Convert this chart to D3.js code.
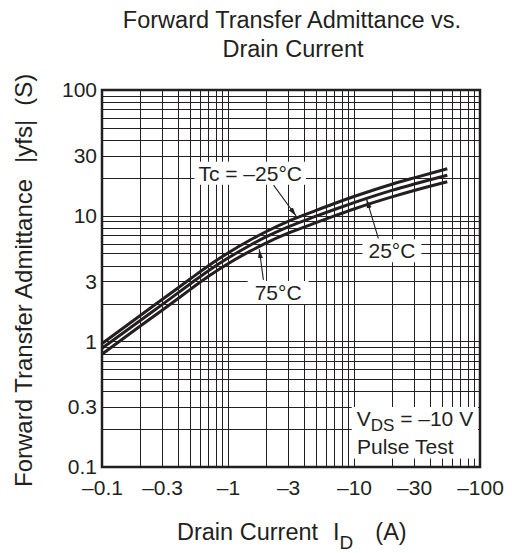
<!DOCTYPE html>
<html>
<head>
<meta charset="utf-8">
<script src="https://cdn.jsdelivr.net/npm/d3@7"></script>
<style>
  body { margin: 0; background: #fff; }
  svg { display: block; font-family: 'Liberation Sans', Arial, Helvetica, sans-serif; }
</style>
</head>
<body>
<svg id="chart"></svg>
<script>
/* global d3 */
const width = 517
const height = 553
const margin = { top: 90, right: 37, bottom: 86, left: 102 }
const ink = '#231f20'

// drain current (A) and |yfs| (S)
const drainCurrent = [-0.1, -0.2, -0.3, -0.5, -0.7, -1, -1.5, -2, -3, -5, -7, -10, -20, -30, -55]
const yfsMinus25 = [0.96, 1.6, 2.15, 3.13, 4.0, 5.05, 6.4, 7.45, 9.0, 11.0, 12.5, 14.2, 17.8, 20.0, 23.6]
const yfs25 = [0.88, 1.46, 1.96, 2.86, 3.65, 4.6, 5.82, 6.77, 8.15, 9.9, 11.2, 12.7, 15.9, 17.85, 21.0]
const yfs75 = [0.79, 1.32, 1.77, 2.58, 3.3, 4.15, 5.22, 6.05, 7.25, 8.8, 9.95, 11.3, 14.1, 15.85, 18.6]

const xTickValues = [-0.1, -0.3, -1, -3, -10, -30, -100]
const yTickValues = [0.1, 0.3, 1, 3, 10, 30, 100]

// curve labels: text, label centre, arrow tail, arrow tip (data units)
const curveLabels = [
  { text: 'Tc = –25°C', at: [-1.5, 21.7], from: [-2.3, 17.5], to: [-3.47, 9.93], padX: 4 },
  { text: '25°C', at: [-20, 5.24], from: [-15.6, 6.6], to: [-12.6, 13.5], padX: 6 },
  { text: '75°C', at: [-2.5, 2.44], from: [-1.91, 3.08], to: [-1.77, 5.4], padX: 7 }
]

const svg = d3.select('#chart').attr('width', width).attr('height', height)

/** Scales */
const x = d3.scaleLog()
  .domain([-0.1, -100])
  .range([margin.left, width - margin.right])
const y = d3.scaleLog()
  .domain([0.1, 100])
  .range([height - margin.bottom, margin.top])

const [x0, x1] = x.range()
const [y1, y0] = y.range()

/** Log grid */
const grid = svg.append('g')
  .attr('stroke', ink)
  .attr('stroke-width', 1)
  .attr('shape-rendering', 'crispEdges')
grid.selectAll('line.v')
  .data(x.ticks())
  .join('line')
  .attr('class', 'v')
  .attr('x1', d => Math.round(x(d)) + 0.5)
  .attr('x2', d => Math.round(x(d)) + 0.5)
  .attr('y1', y0)
  .attr('y2', y1)
grid.selectAll('line.h')
  .data(y.ticks())
  .join('line')
  .attr('class', 'h')
  .attr('x1', x0)
  .attr('x2', x1)
  .attr('y1', d => Math.round(y(d)) + 0.5)
  .attr('y2', d => Math.round(y(d)) + 0.5)

/** Axes (labels only) */
const xAxis = d3.axisBottom(x)
  .tickValues(xTickValues)
  .tickFormat(d => '–' + Math.abs(d))
  .tickSize(0)
  .tickPadding(13)
const yAxis = d3.axisLeft(y)
  .tickValues(yTickValues)
  .tickFormat(d => String(d))
  .tickSize(0)
  .tickPadding(5)

svg.append('g')
  .attr('transform', `translate(0,${y1})`)
  .call(xAxis)
  .call(g => g.select('.domain').remove())
  .attr('font-size', 21)
  .attr('font-family', null)
  .selectAll('text').attr('fill', ink)

svg.append('g')
  .attr('transform', `translate(${x0},0)`)
  .call(yAxis)
  .call(g => g.select('.domain').remove())
  .attr('font-size', 21)
  .attr('font-family', null)
  .selectAll('text').attr('fill', ink)

/** Curve labels with white boxes */
const labels = svg.append('g').attr('font-size', 21).attr('fill', ink)
curveLabels.forEach(l => {
  const g = labels.append('g')
  const rect = g.append('rect').attr('fill', '#fff')
  const t = g.append('text')
    .attr('x', x(l.at[0]))
    .attr('y', y(l.at[1]))
    .attr('dy', '0.35em')
    .attr('text-anchor', 'middle')
    .text(l.text)
  const b = t.node().getBBox()
  rect.attr('x', b.x - l.padX).attr('y', b.y).attr('width', b.width + 2 * l.padX).attr('height', b.height)
})

/** Test conditions box */
const note = svg.append('g').attr('font-size', 21).attr('fill', ink)
const noteRect = note.append('rect').attr('fill', '#fff')
const vds = note.append('text').attr('x', x1 - 123.3).attr('y', y1 - 41)
vds.append('tspan').text('V')
vds.append('tspan').attr('font-size', 17).attr('dy', 5).text('DS')
vds.append('tspan').attr('dy', -5).text(' = –10 V')
note.append('text').attr('x', x1 - 123).attr('y', y1 - 13.5).text('Pulse Test')
const nb = note.node().getBBox()
noteRect.attr('x', nb.x - 5).attr('y', nb.y).attr('width', x1 - 2 - (nb.x - 5)).attr('height', nb.height + 1)

/** Arrows */
const defs = svg.append('defs')
defs.append('marker')
  .attr('id', 'head')
  .attr('markerUnits', 'userSpaceOnUse')
  .attr('markerWidth', 9)
  .attr('markerHeight', 6)
  .attr('refX', 9)
  .attr('refY', 3)
  .attr('orient', 'auto')
  .append('path')
  .attr('d', 'M0,0.5 L9,3 L0,5.5 Z')
  .attr('fill', ink)

svg.append('g')
  .selectAll('line')
  .data(curveLabels)
  .join('line')
  .attr('x1', d => x(d.from[0]))
  .attr('y1', d => y(d.from[1]))
  .attr('x2', d => x(d.to[0]))
  .attr('y2', d => y(d.to[1]))
  .attr('stroke', ink)
  .attr('stroke-width', 1.1)
  .attr('marker-end', 'url(#head)')

/** Curves */
const line = d3.line()
  .x((d, i) => x(drainCurrent[i]))
  .y(d => y(d))
  .curve(d3.curveMonotoneX)

svg.append('g')
  .selectAll('path')
  .data([yfsMinus25, yfs25, yfs75])
  .join('path')
  .attr('d', line)
  .attr('fill', 'none')
  .attr('stroke', ink)
  .attr('stroke-width', 3)

/** Frame */
svg.append('rect')
  .attr('x', x0)
  .attr('y', y0)
  .attr('width', x1 - x0)
  .attr('height', y1 - y0)
  .attr('fill', 'none')
  .attr('stroke', ink)
  .attr('stroke-width', 2.5)

/** Titles */
const title = svg.append('g').attr('font-size', 23.5).attr('fill', ink).attr('text-anchor', 'middle')
title.append('text').attr('x', 292).attr('y', 28).text('Forward Transfer Admittance vs.')
title.append('text').attr('x', 293).attr('y', 57).text('Drain Current')

const xTitle = svg.append('text')
  .attr('x', 177)
  .attr('y', 540)
  .attr('font-size', 23.5)
  .attr('fill', ink)
xTitle.append('tspan').text('Drain Current')
xTitle.append('tspan').attr('dx', 15).text('I')
xTitle.append('tspan').attr('font-size', 19).attr('dy', 9).text('D')
xTitle.append('tspan').attr('dx', 22).attr('dy', -9).text('(A)')

const yTitle = svg.append('text')
  .attr('transform', 'translate(32,487) rotate(-90)')
  .attr('font-size', 24)
  .attr('fill', ink)
yTitle.append('tspan').text('Forward Transfer Admittance')
yTitle.append('tspan').attr('dx', 16).text('|yfs|')
yTitle.append('tspan').attr('dx', 14).text('(S)')
</script>
</body>
</html>
